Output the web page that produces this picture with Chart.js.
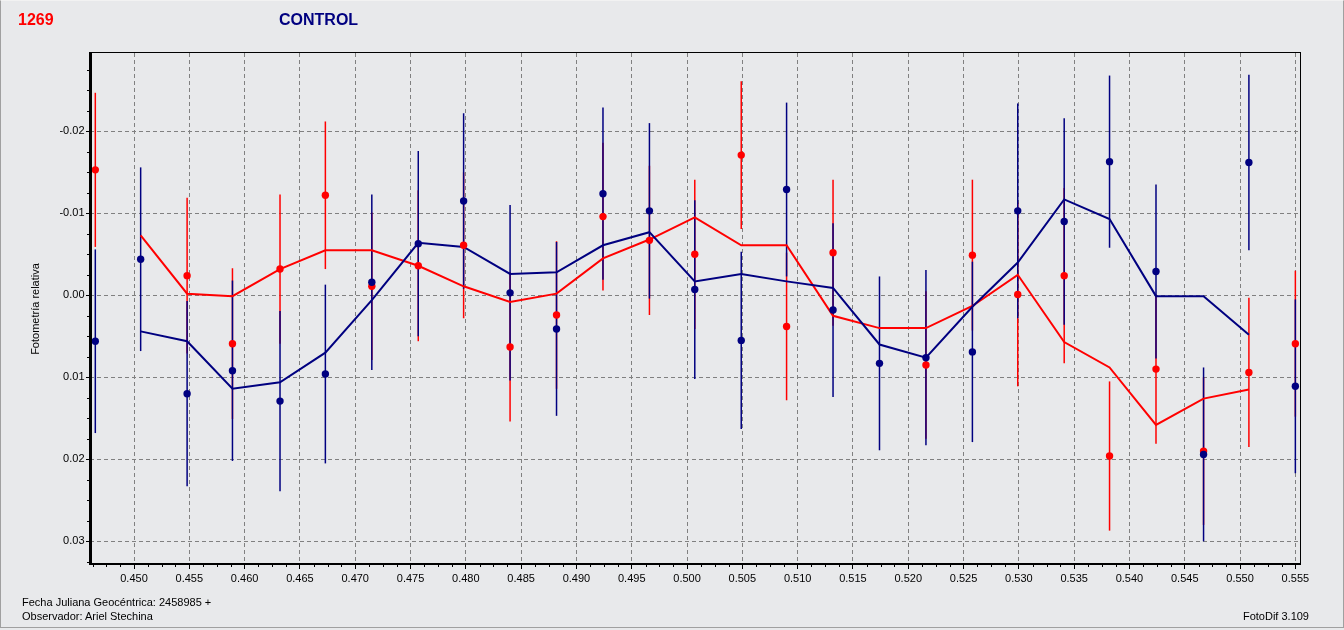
<!DOCTYPE html>
<html>
<head>
<meta charset="utf-8">
<script src="https://cdn.jsdelivr.net/npm/chart.js@4.4.1/dist/chart.umd.min.js"></script>
<style>
  html, body { margin: 0; padding: 0; background: #e8e9eb; }
  #wrap { position: relative; width: 1344px; height: 630px; overflow: hidden; background: #e8e9eb;
          font-family: "Liberation Sans", Arial, sans-serif; }
  #c { position: absolute; left: 0; top: 0; }
  #frame { position: absolute; left: 0; top: 0; width: 1342px; height: 626px;
           border: 1px solid #a0a0a0; border-top-color: #f2f2f2; pointer-events: none; }
  .t { position: absolute; white-space: nowrap; line-height: 11px; font-size: 11px; color: #000; }
  .h { position: absolute; white-space: nowrap; line-height: 16px; font-size: 16px; font-weight: bold; }
</style>
</head>
<body>
<div id="wrap">
  <canvas id="c" width="1344" height="630"></canvas>
  <div id="frame"></div>
  <div class="h" style="left:18px; top:12px; color:#ff0000;">1269</div>
  <div class="h" style="left:279px; top:12px; color:#000080;">CONTROL</div>
  <div class="t" style="left:22px; top:597px;">Fecha Juliana Geocéntrica: 2458985 +</div>
  <div class="t" style="left:22px; top:611px;">Observador: Ariel Stechina</div>
  <div class="t" style="right:35px; top:611px;">FotoDif 3.109</div>
</div>
<script>
// ---- data ----
const xValues = [0.4465, 0.4506, 0.4548, 0.4589, 0.4632, 0.4673, 0.4715, 0.4757, 0.4798,
                 0.4840, 0.4882, 0.4924, 0.4966, 0.5007, 0.5049, 0.5090, 0.5132, 0.5174,
                 0.5216, 0.5258, 0.5299, 0.5341, 0.5382, 0.5424, 0.5467, 0.5508, 0.5550];

const blueValues = [0.0056, -0.0044, 0.0120, 0.0092, 0.0129, 0.0096, -0.0016, -0.0063, -0.0115,
                    -0.0003, 0.0041, -0.0124, -0.0103, -0.0007, 0.0055, -0.0129, 0.0018, 0.0083,
                    0.0076, 0.0069, -0.0103, -0.0090, -0.0163, -0.0029, 0.0194, -0.0162, 0.0111];
const blueErrors = [0.0112, 0.0112, 0.0113, 0.0110, 0.0110, 0.0109, 0.0107, 0.0113, 0.0107,
                    0.0107, 0.0106, 0.0105, 0.0107, 0.0109, 0.0108, 0.0106, 0.0106, 0.0106,
                    0.0107, 0.0110, 0.0131, 0.0126, 0.0105, 0.0106, 0.0106, 0.0107, 0.0106];

const redValues = [-0.0153, null, -0.0024, 0.0059, -0.0032, -0.0122, -0.0011, -0.0036, -0.0061,
                   0.0063, 0.0024, -0.0096, -0.0067, -0.0050, -0.0171, 0.0038, -0.0052, null,
                   0.0085, -0.0049, -0.0001, -0.0024, 0.0196, 0.0090, 0.0190, 0.0094, 0.0059];
const redErrors = [0.0094, null, 0.0095, 0.0092, 0.0091, 0.0090, 0.0090, 0.0092, 0.0089,
                   0.0091, 0.0090, 0.0090, 0.0091, 0.0091, 0.0090, 0.0090, 0.0089, null,
                   0.0090, 0.0092, 0.0112, 0.0107, 0.0091, 0.0091, 0.0090, 0.0091, 0.0089];

const blueAverage = [null, 0.0044, 0.0056, 0.0114, 0.0106, 0.0070, 0.0006, -0.0064, -0.0059,
                     -0.0026, -0.0028, -0.0061, -0.0077, -0.0017, -0.0026, -0.0017, -0.0009, 0.0060,
                     0.0076, 0.0014, -0.0040, -0.0117, -0.0093, 0.0001, 0.0001, 0.0048, null];
const redAverage = [null, -0.0073, -0.0002, 0.0001, -0.0032, -0.0055, -0.0055, -0.0036, -0.0011,
                    0.0008, -0.0002, -0.0045, -0.0068, -0.0095, -0.0061, -0.0061, 0.0025, 0.0040,
                    0.0040, 0.0013, -0.0025, 0.0057, 0.0088, 0.0158, 0.0126, 0.0115, null];

const xRange = [0.44602, 0.55551];
const yRange = [-0.02955, 0.03289];
const xStep = 0.005, yStep = 0.01;

const RED = '#ff0000';
const NAVY = '#000080';

function toPoints(ys) {
  return xValues.map((x, i) => ({ x: x, y: ys[i] }));
}

// error bars drawn through the chart's scales
const errorBars = {
  id: 'errorBars',
  beforeDatasetsDraw(chart) {
    const ctx = chart.ctx, ca = chart.chartArea;
    const xs = chart.scales.x, ys = chart.scales.y;
    ctx.save();
    ctx.beginPath();
    ctx.rect(ca.left, ca.top, ca.right - ca.left, ca.bottom - ca.top);
    ctx.clip();
    [1, 0].forEach(di => {
      const ds = chart.data.datasets[di];
      ctx.strokeStyle = ds.borderColor;
      ctx.lineWidth = 1.5;
      ds.data.forEach((p, i) => {
        const e = ds.errors[i];
        if (p.y == null || e == null) return;
        const px = xs.getPixelForValue(p.x);
        ctx.beginPath();
        ctx.moveTo(px, ys.getPixelForValue(p.y - e));
        ctx.lineTo(px, ys.getPixelForValue(p.y + e));
        ctx.stroke();
      });
    });
    ctx.restore();
  }
};

// minor ticks and plot frame
const frame = {
  id: 'frame',
  afterDraw(chart) {
    const ctx = chart.ctx, ca = chart.chartArea;
    const xs = chart.scales.x, ys = chart.scales.y;
    ctx.save();
    ctx.fillStyle = '#000';
    const ym = yStep / 4;
    for (let k = Math.ceil(ys.min / ym); k <= Math.floor(ys.max / ym); k++) {
      if (k % 4 === 0) continue;
      const py = Math.round(ys.getPixelForValue(k * ym));
      ctx.fillRect(ca.left - 3, py, 2, 1);
    }
    const xm = xStep / 4;
    for (let k = Math.ceil(xs.min / xm - 1e-9); k <= Math.floor(xs.max / xm + 1e-9); k++) {
      if (k % 4 === 0) continue;
      const px = Math.round(xs.getPixelForValue(k * xm));
      ctx.fillRect(px, ca.bottom, 1, 2);
    }
    const w = ca.right - ca.left, h = ca.bottom - ca.top;
    ctx.fillRect(ca.left - 1, ca.top - 1, 3, h + 1);      // left (thick)
    ctx.fillRect(ca.left - 1, ca.bottom - 2, w + 1, 2);   // bottom (thick)
    ctx.fillRect(ca.left, ca.top - 1, w, 1);              // top
    ctx.fillRect(ca.right - 1, ca.top - 1, 1, h + 1);     // right
    ctx.restore();
  }
};

Chart.defaults.font.family = '"Liberation Sans", Arial, sans-serif';
Chart.defaults.font.size = 11;
Chart.defaults.color = '#000';

new Chart(document.getElementById('c'), {
  type: 'scatter',
  data: {
    datasets: [
      { label: 'control', data: toPoints(blueValues), errors: blueErrors,
        backgroundColor: NAVY, borderColor: NAVY, pointRadius: 3.7, pointHoverRadius: 3.7,
        borderWidth: 0, showLine: false },
      { label: 'variable', data: toPoints(redValues), errors: redErrors,
        backgroundColor: RED, borderColor: RED, pointRadius: 3.7, pointHoverRadius: 3.7,
        borderWidth: 0, showLine: false },
      { label: 'control avg', data: toPoints(blueAverage), borderColor: NAVY, backgroundColor: NAVY,
        showLine: true, borderWidth: 2, pointRadius: 0, tension: 0, fill: false },
      { label: 'variable avg', data: toPoints(redAverage), borderColor: RED, backgroundColor: RED,
        showLine: true, borderWidth: 2, pointRadius: 0, tension: 0, fill: false }
    ]
  },
  options: {
    responsive: false,
    animation: false,
    devicePixelRatio: 1,
    layout: { padding: { left: 25, top: 53, right: 43, bottom: 0 } },
    plugins: { legend: { display: false }, tooltip: { enabled: false } },
    scales: {
      x: {
        type: 'linear', min: xRange[0], max: xRange[1],
        afterFit(s) { s.height = 65; },
        ticks: { stepSize: xStep, includeBounds: false, autoSkip: false, maxRotation: 0,
                 padding: 3, callback: v => v.toFixed(3) },
        grid: { color: '#808080', lineWidth: 1, tickLength: 4, tickColor: '#000' },
        border: { display: false, dash: [4, 3] }
      },
      y: {
        type: 'linear', reverse: true, min: yRange[0], max: yRange[1],
        afterFit(s) { s.width = 65; },
        ticks: { stepSize: yStep, includeBounds: false, autoSkip: false,
                 padding: 1.5, callback: v => v.toFixed(2) },
        grid: { color: '#808080', lineWidth: 1, tickLength: 4, tickColor: '#000' },
        border: { display: false, dash: [4, 3] },
        title: { display: true, text: 'Fotometría relativa', font: { size: 11 },
                 color: '#000', padding: { top: 4, bottom: 4 } }
      }
    }
  },
  plugins: [errorBars, frame]
});
</script>
</body>
</html>
